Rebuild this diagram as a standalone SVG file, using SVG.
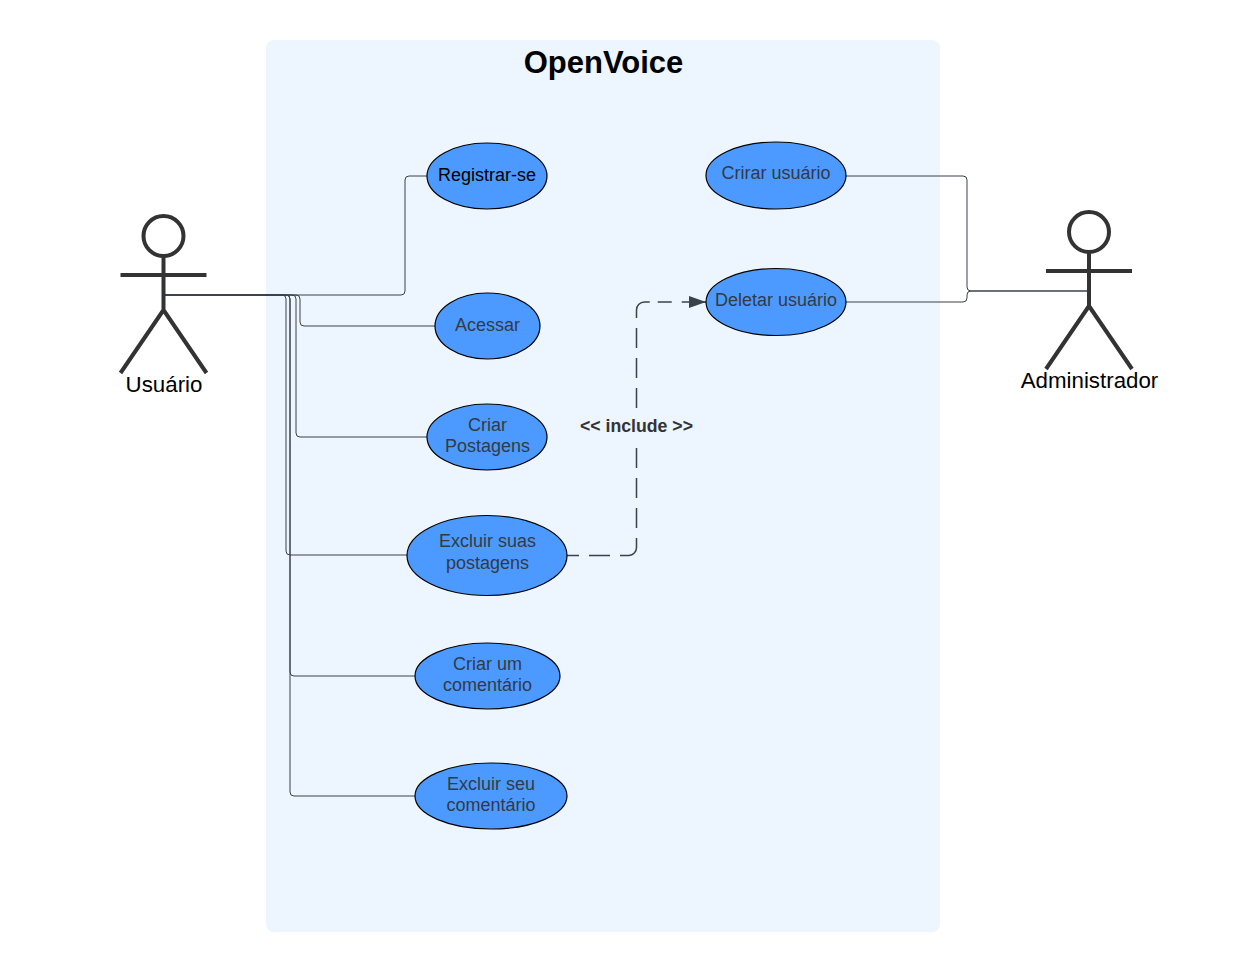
<svg xmlns="http://www.w3.org/2000/svg" width="1253" height="972" viewBox="0 0 1253 972">
<style>
text{font-family:"Liberation Sans",Arial,sans-serif;text-anchor:middle}
.n{fill:#4c9aff;stroke:#000;stroke-width:1.2}
.l{font-size:18px;fill:#333a45}
.c{fill:none;stroke:#3a414a;stroke-width:1}
.d{fill:none;stroke:#3a414a;stroke-width:1.500}
.a{fill:none;stroke:#333;stroke-width:4}
.t{font-size:22.300px;fill:#000}
</style>
<defs><marker id="arr" markerUnits="userSpaceOnUse" markerWidth="18" markerHeight="14" refX="17" refY="6" orient="auto"><path d="M0 0L17 6L0 12Z" fill="#3a414a"/></marker></defs>
<rect id="boundary" x="266" y="40" width="674" height="892" rx="8" fill="#edf5ff"/>
<text x="603.500" y="73" font-size="31px" font-weight="700" fill="#000">OpenVoice</text>
<g id="connectors">
<path class="c" d="M164 295H401a4 4 0 0 0 4-4V180a4 4 0 0 1 4-4H427"/>
<path class="c" d="M164 295H296a4 4 0 0 1 4 4V322a4 4 0 0 0 4 4H435"/>
<path class="c" d="M164 295H292a4 4 0 0 1 4 4V433a4 4 0 0 0 4 4H427"/>
<path class="c" d="M164 295H282a4 4 0 0 1 4 4V551a4 4 0 0 0 4 4H407"/>
<path class="c" d="M164 295H286a4 4 0 0 1 4 4V672a4 4 0 0 0 4 4H415"/>
<path class="c" d="M164 295H286a4 4 0 0 1 4 4V792a4 4 0 0 0 4 4H415"/>
<path class="c" d="M846 176H963a4 4 0 0 1 4 4V287a4 4 0 0 0 4 4H1087"/>
<path class="c" d="M846 302H963a4 4 0 0 0 4-4V295a4 4 0 0 1 4-4H1087"/>
<path class="d" stroke-dasharray="12 10 21 10 40" d="M567 555.500H629a8 8 0 0 0 7.500-8V538"/>
<path class="d" stroke-dasharray="20 10" d="M636.500 528V328"/>
<path class="d" stroke-dasharray="25.700 8 14 10 30" d="M636.500 318V310a8 8 0 0 1 8-8H706" marker-end="url(#arr)"/>
<rect x="578" y="412" width="118" height="28" fill="#edf5ff"/>
<text x="636.500" y="432" font-size="17.700px" font-weight="700" fill="#333">&lt;&lt; include &gt;&gt;</text>
</g>
<g id="actor-usuario">
<circle class="a" cx="163.500" cy="236" r="20"/>
<path class="a" d="M163.500 256V310M120.500 275H206.500M163.500 310L120.500 373M163.500 310L206.500 373"/>
<text class="t" x="164" y="392">Usuário</text>
</g>
<g id="actor-administrador">
<circle class="a" cx="1089" cy="232" r="20"/>
<path class="a" d="M1089 252V306M1046 271H1132M1089 306L1046 369M1089 306L1132 369"/>
<text class="t" x="1089.500" y="388">Administrador</text>
</g>
<g id="registrar"><ellipse class="n" cx="487" cy="176" rx="60" ry="33"/><text x="487" y="180.500" font-size="18px" fill="#000">Registrar-se</text></g>
<g id="acessar"><ellipse class="n" cx="487.500" cy="326" rx="52.500" ry="33"/><text class="l" x="487.500" y="330.500">Acessar</text></g>
<g id="criar-postagens"><ellipse class="n" cx="487" cy="437" rx="60" ry="33"/><text class="l" x="487.500" y="431">Criar</text><text class="l" x="487.500" y="452">Postagens</text></g>
<g id="excluir-postagens"><ellipse class="n" cx="487" cy="555.500" rx="80" ry="40"/><text class="l" x="487.500" y="547">Excluir suas</text><text class="l" x="487.500" y="569">postagens</text></g>
<g id="criar-comentario"><ellipse class="n" cx="487.500" cy="676" rx="72.500" ry="33"/><text class="l" x="487.500" y="670">Criar um</text><text class="l" x="487.500" y="691">comentário</text></g>
<g id="excluir-comentario"><ellipse class="n" cx="491" cy="796" rx="76" ry="33"/><text class="l" x="491" y="790">Excluir seu</text><text class="l" x="491" y="811">comentário</text></g>
<g id="crirar-usuario"><ellipse class="n" cx="776" cy="175.500" rx="70" ry="33.500"/><text class="l" x="776" y="179">Crirar usuário</text></g>
<g id="deletar-usuario"><ellipse class="n" cx="776" cy="302" rx="70" ry="33.500"/><text class="l" x="776" y="306">Deletar usuário</text></g>
</svg>
